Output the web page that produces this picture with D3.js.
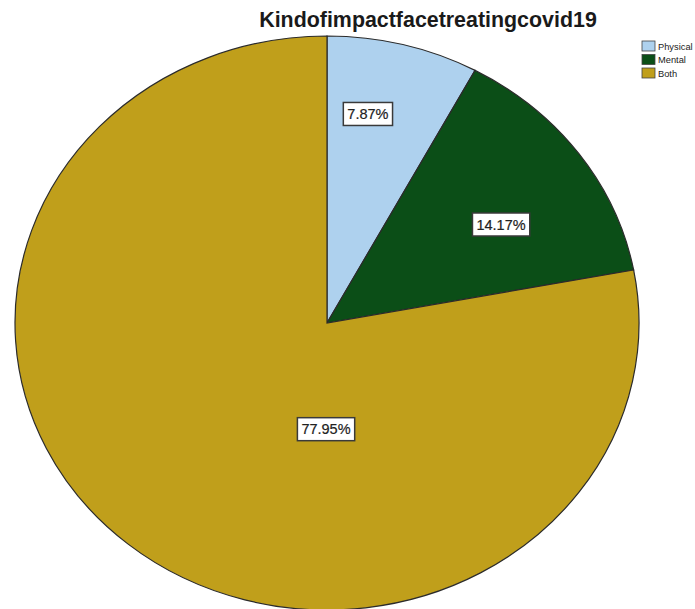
<!DOCTYPE html>
<html>
<head>
<meta charset="utf-8">
<script src="https://cdn.jsdelivr.net/npm/d3@7/dist/d3.min.js"></script>
<style>
  html, body { margin: 0; padding: 0; background: #fff; }
  svg { display: block; }
</style>
</head>
<body>
<svg id="chart" width="695" height="609"></svg>
<script>
// Data
const categories = ["Physical", "Mental", "Both"];
const percents = [7.87, 14.17, 77.95];
const colors = ["#aed1ee", "#0b4e17", "#c09f1b"];
const titleText = "Kindofimpactfacetreatingcovid19";

// Label anchors in unit-pie polar coordinates (degrees clockwise from top, radius fraction)
const labelAngles = [10.2, 58.4, 180.5];
const labelRadii = [0.74, 0.655, 0.37];

const svg = d3.select("#chart");
const cx = 327, cy = 323;
const rx = 312, ry = 287;

const pie = d3.pie().sort(null).value(d => d)(percents);
const arc = d3.arc().innerRadius(0).outerRadius(rx);

// Pie is drawn on a circle and stretched vertically into an ellipse
const g = svg.append("g")
  .attr("transform", `translate(${cx},${cy}) scale(1,${ry / rx})`);

g.selectAll("path.slice")
  .data(pie)
  .enter().append("path")
  .attr("class", "slice")
  .attr("d", arc)
  .attr("fill", (d, i) => colors[i])
  .attr("stroke", "#2b2b2b")
  .attr("stroke-width", 1.2)
  .attr("vector-effect", "non-scaling-stroke");

// Percentage labels in white boxes
const labelG = svg.append("g");
percents.forEach((p, i) => {
  const a = labelAngles[i] * Math.PI / 180;
  const x = cx + rx * labelRadii[i] * Math.sin(a);
  const y = cy - ry * labelRadii[i] * Math.cos(a);
  const lg = labelG.append("g").attr("transform", `translate(${x},${y})`);
  const t = lg.append("text")
    .attr("text-anchor", "middle")
    .attr("dy", "0.36em")
    .attr("font-family", "Liberation Sans, Arial, sans-serif")
    .attr("font-size", 14.5)
    .attr("fill", "#222")
    .attr("stroke", "#222")
    .attr("stroke-width", 0.2)
    .text(p.toFixed(2) + "%");
  const bb = t.node().getBBox();
  lg.insert("rect", "text")
    .attr("x", bb.x - 4)
    .attr("y", -11.5)
    .attr("width", bb.width + 8)
    .attr("height", 23)
    .attr("fill", "#fff")
    .attr("stroke", "#3a3a3a")
    .attr("stroke-width", 1.5);
});

// Title
svg.append("text")
  .attr("x", 428)
  .attr("y", 27)
  .attr("text-anchor", "middle")
  .attr("font-family", "Liberation Sans, Arial, sans-serif")
  .attr("font-weight", "bold")
  .attr("font-size", 21.4)
  .attr("fill", "#1a1a1a")
  .text(titleText);

// Legend
const legend = svg.append("g").attr("transform", "translate(642,41)");
categories.forEach((c, i) => {
  const row = legend.append("g").attr("transform", `translate(0,${i * 13.5})`);
  row.append("rect")
    .attr("width", 13).attr("height", 10)
    .attr("fill", colors[i])
    .attr("stroke", "#444").attr("stroke-width", 0.8);
  row.append("text")
    .attr("x", 16).attr("y", 8.5)
    .attr("font-family", "Liberation Sans, Arial, sans-serif")
    .attr("font-size", 9.3)
    .attr("fill", "#222")
    .text(c);
});
</script>
</body>
</html>
